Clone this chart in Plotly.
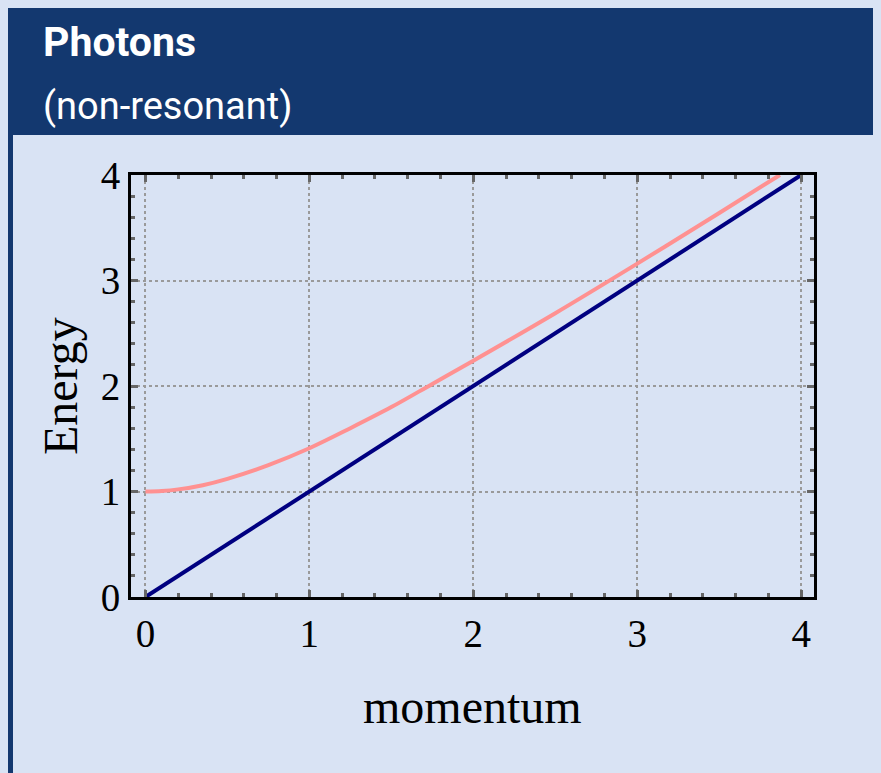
import plotly.graph_objects as go

# ── data ───────────────────────────────────────────────────────────────────────
photon_k = [0.0, 4.0]
photon_e = [0.0, 4.0]

massive_k = [0.0, 0.1, 0.2, 0.35, 0.5, 0.75, 1.0, 1.25, 1.5, 1.75, 2.0, 2.5, 3.0, 3.5, 3.87]
massive_e = [1.0, 1.005, 1.02, 1.06, 1.12, 1.25, 1.41, 1.60, 1.80, 2.02, 2.24, 2.69, 3.16, 3.64, 4.0]

tick_vals = [0, 1, 2, 3, 4]
tick_text = ["0", "1", "2", "3", "4"]

TITLE = "Photons"
SUBTITLE = "(non-resonant)"

# ── layout constants (figure pixels; page adds an 8px body margin) ────────────
W, H = 881, 773
OFF = 8
L, R, T, B = 131 - OFF, 814 - OFF, 175 - OFF, 597 - OFF

BG = "#d9e3f4"
HEAD = "#13386f"
SERIF = "Liberation Serif, Times New Roman, serif"
SANS = "Roboto, Open Sans, sans-serif"


def px_x(p):
    # p in page pixels
    return (p - OFF - L) / (R - L)


def px_y(p):
    return (B - (p - OFF)) / (B - T)


fig = go.Figure()

fig.add_trace(go.Scatter(
    x=massive_k, y=massive_e, mode="lines",
    line=dict(color="#ff9191", width=4, shape="spline"),
    showlegend=False, hoverinfo="skip",
))
fig.add_trace(go.Scatter(
    x=photon_k, y=photon_e, mode="lines",
    line=dict(color="#000080", width=4),
    showlegend=False, hoverinfo="skip",
))

axis_common = dict(
    showline=True, linecolor="black", linewidth=3, mirror="allticks",
    ticks="inside", ticklen=7, tickwidth=2.5, tickcolor="#666666",
    showgrid=True, gridcolor="#9a9a9a", griddash="dot", gridwidth=1.5,
    zeroline=False,
    tickvals=tick_vals, ticktext=tick_text,
    tickfont=dict(family=SERIF, size=39, color="black"),
    minor=dict(dtick=0.2, ticks="inside", ticklen=4, tickwidth=2.5,
               tickcolor="#666666", showgrid=False),
)

fig.update_xaxes(range=[-0.088, 4.078], **axis_common)
fig.update_yaxes(range=[0, 4], **axis_common)

# header band and left rule of the box
fig.add_shape(type="rect", xref="paper", yref="paper",
              x0=px_x(8), x1=px_x(W + 20), y0=px_y(135), y1=px_y(7),
              fillcolor=HEAD, line=dict(width=0))
fig.add_shape(type="rect", xref="paper", yref="paper",
              x0=px_x(8), x1=px_x(13), y0=px_y(H + 20), y1=px_y(7),
              fillcolor=HEAD, line=dict(width=0))

fig.add_annotation(text=f"<b>{TITLE}</b>", xref="paper", yref="paper",
                   x=px_x(41), y=px_y(42), xanchor="left", yanchor="middle",
                   showarrow=False, font=dict(family=SANS, size=41, color="white"))
fig.add_annotation(text=SUBTITLE, xref="paper", yref="paper",
                   x=px_x(41), y=px_y(106), xanchor="left", yanchor="middle",
                   showarrow=False, font=dict(family=SANS, size=38, color="white"))

# axis titles
fig.add_annotation(text="Energy", xref="paper", yref="paper",
                   x=px_x(60), y=0.5, textangle=-90,
                   xanchor="center", yanchor="middle", showarrow=False,
                   font=dict(family=SERIF, size=48, color="black"))
fig.add_annotation(text="momentum", xref="paper", yref="paper",
                   x=0.5, y=px_y(706), xanchor="center", yanchor="middle",
                   showarrow=False,
                   font=dict(family=SERIF, size=48, color="black"))

fig.update_layout(
    width=W, height=H,
    margin=dict(l=L, r=W - R, t=T, b=H - B),
    paper_bgcolor=BG, plot_bgcolor=BG,
    showlegend=False,
)

fig.write_html("out.html", post_script=f"document.body.style.background='{BG}';")
